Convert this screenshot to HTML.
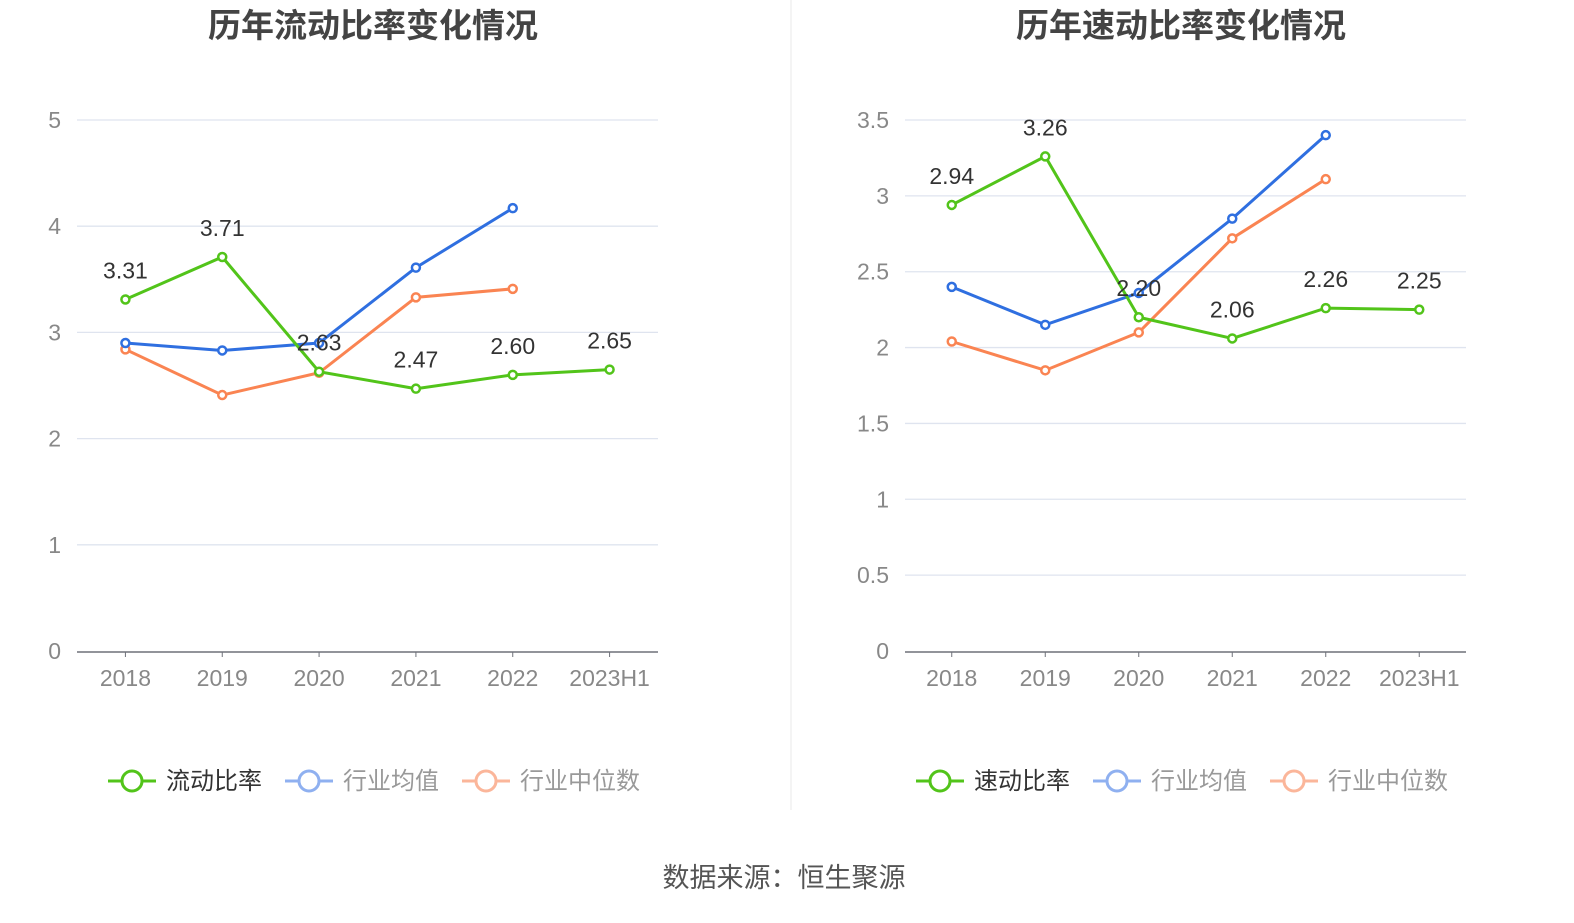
<!DOCTYPE html>
<html><head><meta charset="utf-8"><style>
body{margin:0;background:#fff;width:1574px;height:918px;overflow:hidden;font-family:"Liberation Sans","Noto Sans CJK SC",sans-serif}
</style></head><body>
<svg id="svg" width="1574" height="918" xmlns="http://www.w3.org/2000/svg" font-family="Liberation Sans, Noto Sans CJK SC, sans-serif">
<line x1="791" y1="0" x2="791" y2="810" stroke="#e8e8e8"/>
<text x="784" y="887" text-anchor="middle" font-size="27" fill="#555">数据来源：恒生聚源</text>
</svg>
<script>
const categories=["2018","2019","2020","2021","2022","2023H1"];
const leftRatio=[3.31,3.71,2.63,2.47,2.60,2.65];
const leftAvg=[2.90,2.83,2.90,3.61,4.17];
const leftMed=[2.84,2.41,2.62,3.33,3.41];
const leftTicks=[0,1,2,3,4,5];
const rightRatio=[2.94,3.26,2.20,2.06,2.26,2.25];
const rightAvg=[2.40,2.15,2.36,2.85,3.40];
const rightMed=[2.04,1.85,2.10,2.72,3.11];
const rightTicks=[0,0.5,1,1.5,2,2.5,3,3.5];
const NS="http://www.w3.org/2000/svg";
const svg=document.getElementById('svg');
function mk(t,a,txt){const e=document.createElementNS(NS,t);for(const k in a)e.setAttribute(k,a[k]);if(txt!==undefined)e.textContent=txt;svg.appendChild(e);return e;}
function chart(cfg){
 const x0=cfg.x0,x1=cfg.x1,yb=651,yt=120,max=cfg.ticks[cfg.ticks.length-1];
 const ys=v=>yb-(v/max)*(yb-yt);
 const step=(x1-x0)/categories.length;
 const xs=i=>x0+step*(i+0.5);
 let e=mk('text',{x:cfg.tx,y:37,'text-anchor':'middle','font-size':33,'font-weight':'bold',fill:'#444'},cfg.title);
 
 cfg.ticks.forEach(t=>{
  if(t>0){e=mk('line',{x1:x0,x2:x1,y1:ys(t),y2:ys(t),stroke:'#dfe4ef','stroke-width':1.3});}
  e=mk('text',{x:x0-16,y:ys(t)+8,'text-anchor':'end','font-size':23,fill:'#888'},String(t));
  
 });
 e=mk('line',{x1:x0,x2:x1,y1:yb+1,y2:yb+1,stroke:'#6e7079','stroke-width':1.5});
 
 categories.forEach((c,i)=>{
  e=mk('line',{x1:xs(i),x2:xs(i),y1:yb+1,y2:yb+6,stroke:'#6e7079'});
  e=mk('text',{x:xs(i),y:yb+35,'text-anchor':'middle','font-size':23,fill:'#888'},c);
  
 });
 const series=[[cfg.med,'#fa8452','median'],[cfg.avg,'#2f6fe0','average'],[cfg.ratio,'#52c41a','ratio']];
 series.forEach(([d,col,n])=>{
  e=mk('polyline',{points:d.map((v,i)=>xs(i)+','+ys(v)).join(' '),fill:'none',stroke:col,'stroke-width':3});
  
  d.forEach((v,i)=>{e=mk('circle',{cx:xs(i),cy:ys(v),r:4,fill:'#fff',stroke:col,'stroke-width':2.5});
   });
 });
 cfg.ratio.forEach((v,i)=>{e=mk('text',{x:xs(i),y:ys(v)-21,'text-anchor':'middle','font-size':23,fill:'#333'},v.toFixed(2));
  });
 const lg=[[cfg.lname,'#52c41a','#333',0],['行业均值','#8fb0f0','#999',177],['行业中位数','#fbb69a','#999',354]];
 lg.forEach(([t,col,tc,dx])=>{
  const lx=cfg.lx+dx;
  const g=document.createElementNS(NS,'g');svg.appendChild(g);
  const l=document.createElementNS(NS,'line');[['x1',lx],['x2',lx+48],['y1',781],['y2',781],['stroke',col],['stroke-width',3]].forEach(a=>l.setAttribute(a[0],a[1]));g.appendChild(l);
  const c=document.createElementNS(NS,'circle');[['cx',lx+24],['cy',781],['r',10],['fill','#fff'],['stroke',col],['stroke-width',3]].forEach(a=>c.setAttribute(a[0],a[1]));g.appendChild(c);
  const tx=document.createElementNS(NS,'text');[['x',lx+58],['y',789],['font-size',24],['fill',tc]].forEach(a=>tx.setAttribute(a[0],a[1]));tx.textContent=t;g.appendChild(tx);
 });
}
chart({p:'left',x0:77,x1:658,tx:373,ticks:leftTicks,ratio:leftRatio,avg:leftAvg,med:leftMed,title:'历年流动比率变化情况',lname:'流动比率',lx:108});
chart({p:'right',x0:905,x1:1466,tx:1181,ticks:rightTicks,ratio:rightRatio,avg:rightAvg,med:rightMed,title:'历年速动比率变化情况',lname:'速动比率',lx:916});
</script>
</body></html>
